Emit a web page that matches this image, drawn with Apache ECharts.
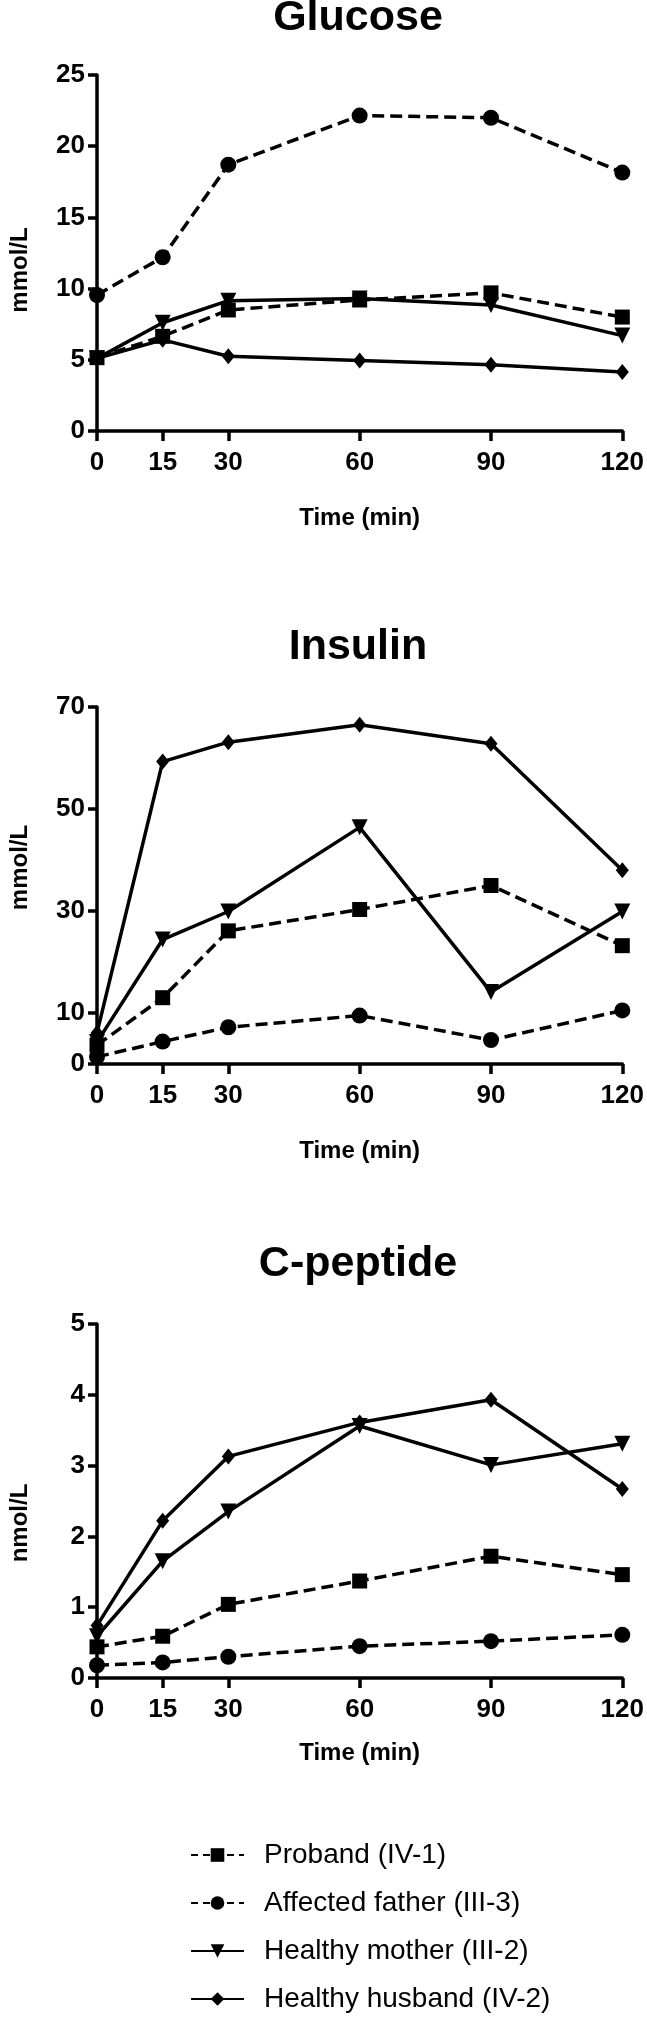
<!DOCTYPE html>
<html><head><meta charset="utf-8">
<script src="https://cdn.jsdelivr.net/npm/echarts@6/dist/echarts.min.js"></script>
<style>html,body{margin:0;padding:0;background:#fff}#c{width:647px;height:2017px}</style>
</head><body><div id="c"></div><script>
// ---- data ----
const times = [0, 15, 30, 60, 90, 120];
const xTickValues = [0, 15, 30, 60, 90, 120];
const seriesNames = ['Proband (IV-1)', 'Affected father (III-3)', 'Healthy mother (III-2)', 'Healthy husband (IV-2)'];
const panelTitles = ['Glucose', 'Insulin', 'C-peptide'];
const yAxisNames = ['mmol/L', 'mmol/L', 'nmol/L'];
const xAxisName = 'Time (min)';

const glucoseTicks = [0, 5, 10, 15, 20, 25];
const insulinTicks = [0, 10, 30, 50, 70];
const cpeptideTicks = [0, 1, 2, 3, 4, 5];

const glucoseProband = [5.15, 6.65, 8.5, 9.2, 9.7, 8.0];
const glucoseFather  = [9.55, 12.2, 18.7, 22.15, 22.0, 18.15];
const glucoseMother  = [5.1, 7.6, 9.15, 9.3, 8.85, 6.7];
const glucoseHusband = [5.1, 6.4, 5.25, 4.95, 4.65, 4.15];

const insulinProband = [3.7, 13.0, 26.1, 30.3, 35.0, 23.2];
const insulinFather  = [1.4, 4.4, 7.2, 9.5, 4.7, 10.5];
const insulinMother  = [4.3, 24.4, 29.9, 46.4, 14.1, 29.9];
const insulinHusband = [6.1, 59.3, 63.1, 66.5, 62.8, 38.0];

const cpeptideProband = [0.44, 0.59, 1.04, 1.37, 1.72, 1.46];
const cpeptideFather  = [0.18, 0.22, 0.30, 0.45, 0.52, 0.61];
const cpeptideMother  = [0.59, 1.65, 2.35, 3.56, 3.01, 3.31];
const cpeptideHusband = [0.74, 2.22, 3.13, 3.61, 3.93, 2.67];

// ---- layout / style ----
const FONT = 'Liberation Sans, Arial, Helvetica, sans-serif';
const panels = [
  { ticks: glucoseTicks, data: [glucoseProband, glucoseFather, glucoseMother, glucoseHusband], top: 75, height: 356, titleTop: 3, nameGapX: 75, yShift: 17 },
  { ticks: insulinTicks, data: [insulinProband, insulinFather, insulinMother, insulinHusband], top: 707, height: 357, titleTop: 632, nameGapX: 75, yShift: -18 },
  { ticks: cpeptideTicks, data: [cpeptideProband, cpeptideFather, cpeptideMother, cpeptideHusband], top: 1324, height: 354, titleTop: 1249, nameGapX: 63, yShift: 22 }
];
const styles = [
  { symbol: 'rect', symbolSize: 15, rotate: 0, dash: [12, 6] },
  { symbol: 'circle', symbolSize: 16, rotate: 0, dash: [12, 6] },
  { symbol: 'triangle', symbolSize: 16, rotate: 180, dash: 'solid' },
  { symbol: 'diamond', symbolSize: [13, 16], rotate: 0, dash: 'solid' }
];

const gridLeft = 91, gridWidth = 534;
const title = [], grid = [], xAxis = [], yAxis = [], series = [];
panels.forEach((p, i) => {
  title.push({
    text: panelTitles[i], left: gridLeft + gridWidth / 2, top: p.titleTop, textAlign: 'center', padding: 0,
    textStyle: { fontFamily: FONT, fontSize: 43, fontWeight: 'bold', color: '#000', lineHeight: 30 }
  });
  grid.push({ left: gridLeft, top: p.top, width: gridWidth, height: p.height });
  const axisLine = { show: true, lineStyle: { color: '#000', width: 3.5 } };
  xAxis.push({
    gridIndex: i, type: 'value', min: 0, max: 120,
    axisLine, splitLine: { show: false },
    axisTick: { show: true, customValues: xTickValues, length: 10, lineStyle: { color: '#000', width: 3.5 } },
    axisLabel: { customValues: xTickValues, margin: 19, fontFamily: FONT, fontSize: 26, fontWeight: 'bold', color: '#000', lineHeight: 26 },
    name: xAxisName, nameLocation: 'middle', nameGap: p.nameGapX,
    nameTextStyle: { fontFamily: FONT, fontSize: 24, fontWeight: 'bold', color: '#000', lineHeight: 24 }
  });
  const d = p.yShift;
  yAxis.push({
    gridIndex: i, type: 'value', min: p.ticks[0], max: p.ticks[p.ticks.length - 1],
    axisLine, splitLine: { show: false },
    axisTick: { show: true, customValues: p.ticks, length: 9, lineStyle: { color: '#000', width: 3.5 } },
    axisLabel: { customValues: p.ticks, margin: 12, fontFamily: FONT, fontSize: 26, fontWeight: 'bold', color: '#000' },
    name: yAxisNames[i], nameLocation: 'middle', nameGap: 65,
    nameTextStyle: { fontFamily: FONT, fontSize: 24, fontWeight: 'bold', color: '#000', lineHeight: 24,
      padding: d > 0 ? [0, 2 * d, 0, 0] : [0, 0, 0, -2 * d] }
  });
  p.data.forEach((vals, k) => {
    const s = styles[k];
    series.push({
      name: seriesNames[k], type: 'line', xAxisIndex: i, yAxisIndex: i,
      data: times.map((t, j) => [t, vals[j]]),
      symbol: s.symbol, symbolSize: s.symbolSize, symbolRotate: s.rotate,
      lineStyle: { color: '#000', width: 3.5, type: s.dash },
      itemStyle: { color: '#000' },
      z: 2
    });
  });
});

const legendData = seriesNames.map((n, k) => (
  styles[k].dash === 'solid' ? { name: n } : { name: n, lineStyle: { type: [7, 5], dashOffset: 0 } }
));

const chart = echarts.init(document.getElementById('c'), null, { renderer: 'canvas' });
chart.setOption({
  animation: false,
  backgroundColor: '#fff',
  title, grid, xAxis, yAxis, series,
  legend: {
    data: legendData, orient: 'vertical', left: 190, top: 1838, padding: 0,
    itemWidth: 53, itemHeight: 17, itemGap: 14,
    textStyle: { fontFamily: FONT, fontSize: 28, color: '#000', lineHeight: 34, padding: [0, 0, 0, 15] }
  }
});
</script></body></html>
